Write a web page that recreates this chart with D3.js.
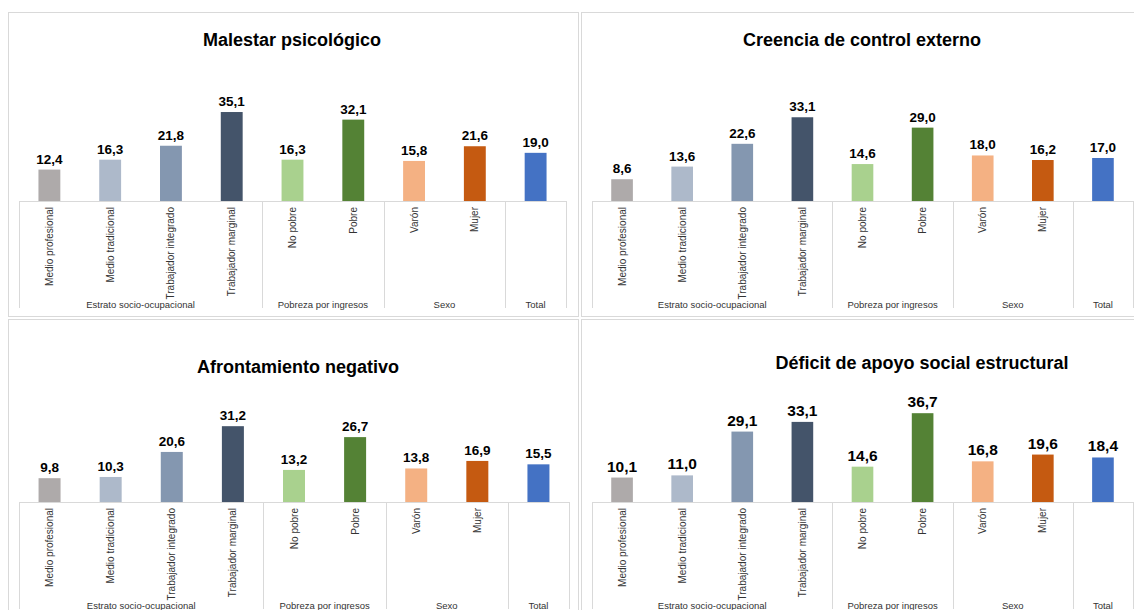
<!DOCTYPE html>
<html>
<head>
<meta charset="utf-8">
<script src="https://cdn.jsdelivr.net/npm/d3@7"></script>
<style>
  body { margin: 0; background: #fff; }
  svg { display: block; font-family: "Liberation Sans", Arial, sans-serif; }
</style>
</head>
<body>
<svg id="chart" width="1134" height="610"></svg>
<script>
const categories = ["Medio profesional", "Medio tradicional", "Trabajador integrado", "Trabajador marginal",
  "No pobre", "Pobre", "Varón", "Mujer", "Total"];
const groupNames = ["Estrato socio-ocupacional", "Pobreza por ingresos", "Sexo", "Total"];
const groupSizes = [4, 2, 2, 1];
const barColors = ["#aeaaaa", "#adb9ca", "#8497b0", "#44546a", "#a9d18e", "#548235", "#f4b183", "#c55a11", "#4472c4"];

const titles = ["Malestar psicológico", "Creencia de control externo", "Afrontamiento negativo", "Déficit de apoyo social estructural"];
const malestar = [12.4, 16.3, 21.8, 35.1, 16.3, 32.1, 15.8, 21.6, 19.0];
const creencia = [8.6, 13.6, 22.6, 33.1, 14.6, 29.0, 18.0, 16.2, 17.0];
const afrontamiento = [9.8, 10.3, 20.6, 31.2, 13.2, 26.7, 13.8, 16.9, 15.5];
const deficit = [10.1, 11.0, 29.1, 33.1, 14.6, 36.7, 16.8, 19.6, 18.4];
const series = [malestar, creencia, afrontamiento, deficit];

// panel geometry (frame, plot area, title anchor)
const panels = [
  {fx: 8, fy: 12, fw: 570, fh: 304, x0: 19, x1: 566, axisY: 201, ppu: 2.535, tx: 292, ty: 46, valSize: 13.5},
  {fx: 581, fy: 12, fw: 570, fh: 304, x0: 592, x1: 1133, axisY: 201, ppu: 2.53, tx: 862, ty: 46, valSize: 13.5},
  {fx: 8, fy: 319, fw: 570, fh: 310, x0: 19, x1: 569, axisY: 502, ppu: 2.43, tx: 298, ty: 373, valSize: 13.5},
  {fx: 581, fy: 319, fw: 570, fh: 310, x0: 592, x1: 1133, axisY: 502, ppu: 2.42, tx: 922, ty: 369, valSize: 15.5}
];

const fmt = v => v.toFixed(1).replace(".", ",");
const svg = d3.select("#chart");
const lineColor = "#d9d9d9";

panels.forEach((p, k) => {
  const values = series[k];
  const g = svg.append("g");

  g.append("rect")
    .attr("x", p.fx + 0.5).attr("y", p.fy + 0.5)
    .attr("width", p.fw).attr("height", p.fh)
    .attr("fill", "#fff").attr("stroke", lineColor);

  g.append("text")
    .attr("x", p.tx).attr("y", p.ty)
    .attr("text-anchor", "middle")
    .attr("font-size", 18).attr("font-weight", "bold")
    .attr("fill", "#000")
    .text(titles[k]);

  const x = d3.scaleBand()
    .domain(categories)
    .range([p.x0, p.x1])
    .paddingInner(0.64)
    .paddingOuter(0.32);
  const y = d3.scaleLinear()
    .domain([0, 40])
    .range([p.axisY, p.axisY - 40 * p.ppu]);

  g.selectAll("rect.bar")
    .data(values)
    .enter().append("rect")
    .attr("class", "bar")
    .attr("x", (d, i) => x(categories[i]))
    .attr("y", d => y(d))
    .attr("width", x.bandwidth())
    .attr("height", d => y(0) - y(d))
    .attr("fill", (d, i) => barColors[i]);

  g.selectAll("text.val")
    .data(values)
    .enter().append("text")
    .attr("class", "val")
    .attr("x", (d, i) => x(categories[i]) + x.bandwidth() / 2)
    .attr("y", d => y(d) - 6)
    .attr("text-anchor", "middle")
    .attr("font-size", p.valSize).attr("font-weight", "bold")
    .attr("fill", "#000")
    .text(fmt);

  // category axis (the Total bar has only its group label)
  const axis = g.append("g")
    .attr("transform", `translate(0,${p.axisY})`)
    .call(d3.axisBottom(x).tickSize(0).tickPadding(0)
      .tickFormat(d => d === "Total" ? "" : d));
  axis.select(".domain").remove();
  axis.selectAll("text")
    .attr("transform", "rotate(-90)")
    .attr("x", -6).attr("y", 0).attr("dy", "0.35em")
    .attr("text-anchor", "end")
    .attr("font-family", "Liberation Sans, Arial, sans-serif")
    .attr("font-size", 10)
    .attr("fill", "#333");

  g.append("line")
    .attr("x1", p.x0).attr("x2", p.x1)
    .attr("y1", p.axisY + 0.5).attr("y2", p.axisY + 0.5)
    .attr("stroke", lineColor);

  // group dividers and labels
  const step = x.step();
  let start = 0;
  const bounds = [0];
  groupSizes.forEach(n => { start += n; bounds.push(start); });
  g.selectAll("line.div")
    .data(bounds)
    .enter().append("line")
    .attr("class", "div")
    .attr("x1", b => Math.round(p.x0 + b * step) + 0.5)
    .attr("x2", b => Math.round(p.x0 + b * step) + 0.5)
    .attr("y1", p.axisY).attr("y2", p.axisY + 107)
    .attr("stroke", lineColor);
  g.selectAll("text.grp")
    .data(groupNames)
    .enter().append("text")
    .attr("class", "grp")
    .attr("x", (d, i) => p.x0 + (bounds[i] + bounds[i + 1]) / 2 * step)
    .attr("y", p.axisY + 107)
    .attr("text-anchor", "middle")
    .attr("font-size", 9.5)
    .attr("fill", "#333")
    .text(d => d);
});
</script>
</body>
</html>
